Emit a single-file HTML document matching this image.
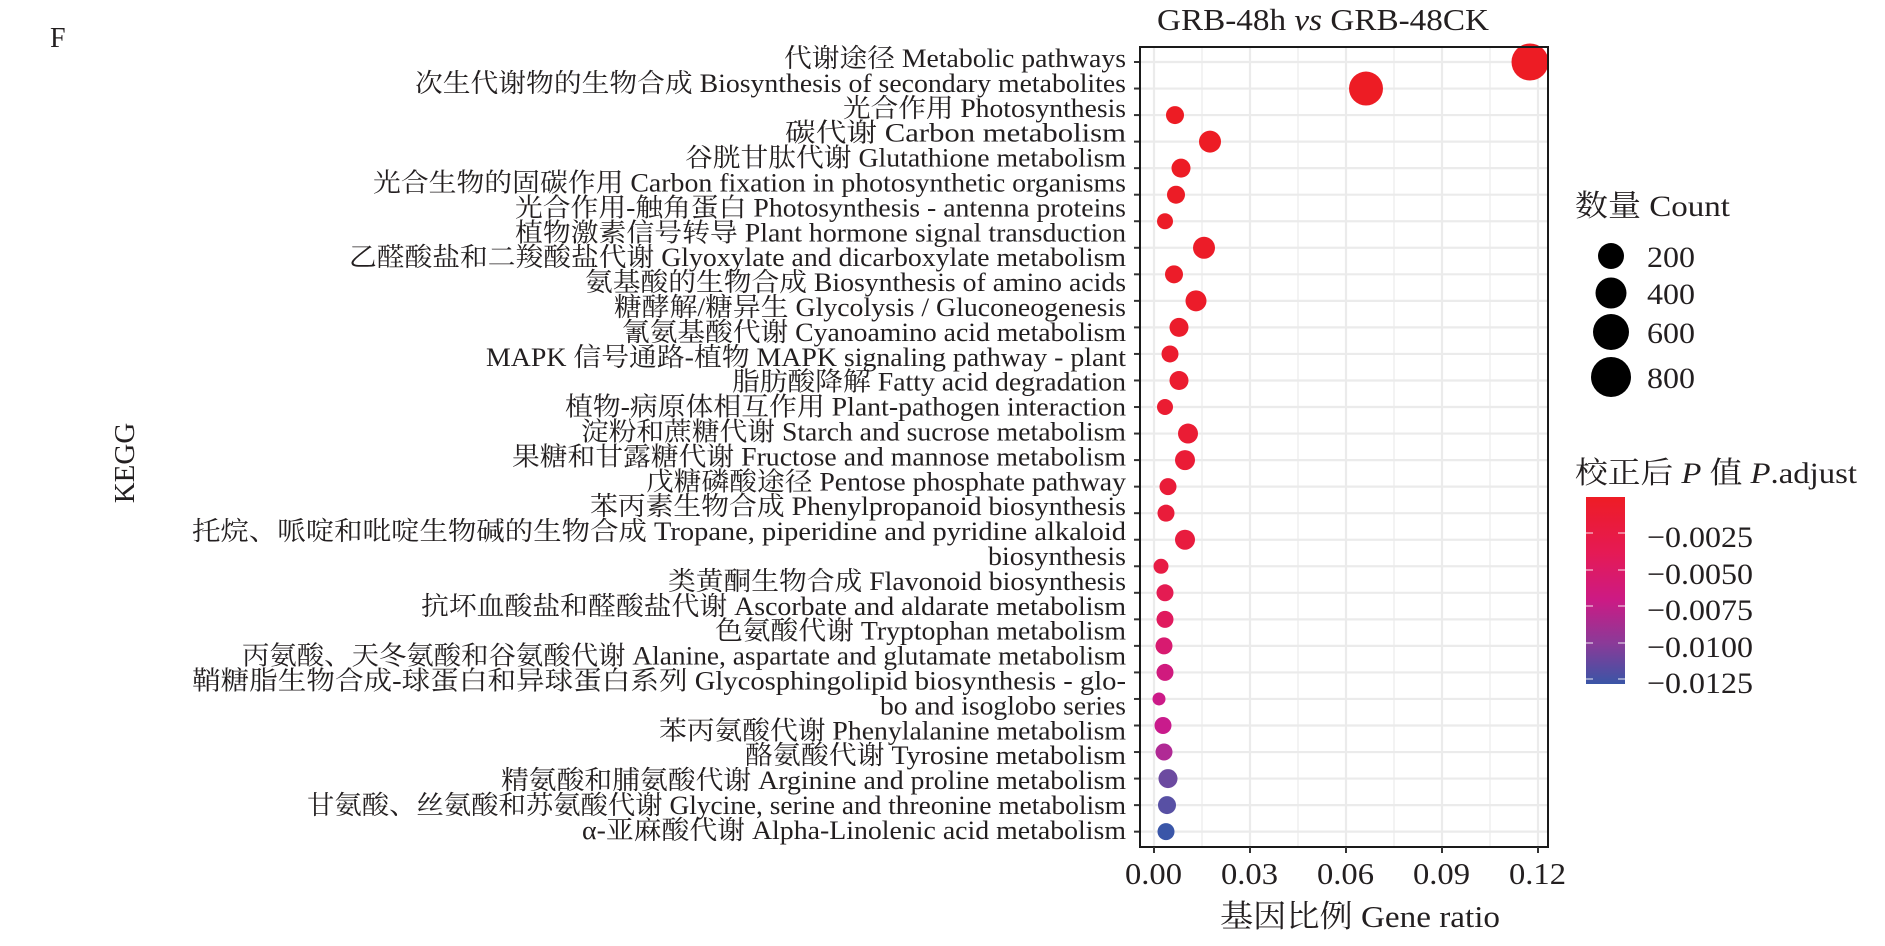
<!DOCTYPE html>
<html><head><meta charset="utf-8"><style>html,body{margin:0;padding:0;background:#fff}svg{display:block}text{font-family:"Liberation Serif","Noto Serif CJK SC",serif;fill:#231f20}</style></head><body>
<svg width="1885" height="946" viewBox="0 0 1885 946" xmlns="http://www.w3.org/2000/svg">
<text x="50" y="47" font-size="28">F</text>
<text x="1157" y="30" font-size="31" textLength="332" lengthAdjust="spacingAndGlyphs">GRB-48h <tspan font-style="italic">vs</tspan> GRB-48CK</text>
<text transform="translate(134,463) rotate(-90)" font-size="29" text-anchor="middle">KEGG</text>
<g id="grid" stroke="#ebebeb">
<g stroke-width="1.2"><line x1="1202" y1="47" x2="1202" y2="847"/><line x1="1298" y1="47" x2="1298" y2="847"/><line x1="1394" y1="47" x2="1394" y2="847"/><line x1="1490" y1="47" x2="1490" y2="847"/></g>
<g stroke-width="2.2"><line x1="1154" y1="47" x2="1154" y2="847"/><line x1="1250" y1="47" x2="1250" y2="847"/><line x1="1346" y1="47" x2="1346" y2="847"/><line x1="1442" y1="47" x2="1442" y2="847"/><line x1="1538" y1="47" x2="1538" y2="847"/></g>
</g>
<g id="rows"></g>
<rect x="1140" y="47" width="408" height="800" fill="none" stroke="#1a1a1a" stroke-width="2"/>
<g id="labels" font-size="26" text-anchor="end"></g>
<g font-size="31">
<text x="1125" y="884" textLength="57" lengthAdjust="spacingAndGlyphs">0.00</text><text x="1221" y="884" textLength="57" lengthAdjust="spacingAndGlyphs">0.03</text><text x="1317" y="884" textLength="57" lengthAdjust="spacingAndGlyphs">0.06</text><text x="1413" y="884" textLength="57" lengthAdjust="spacingAndGlyphs">0.09</text><text x="1509" y="884" textLength="57" lengthAdjust="spacingAndGlyphs">0.12</text>
</g>
<g stroke="#333" stroke-width="2"><line x1="1154" y1="847" x2="1154" y2="853"/><line x1="1250" y1="847" x2="1250" y2="853"/><line x1="1346" y1="847" x2="1346" y2="853"/><line x1="1442" y1="847" x2="1442" y2="853"/><line x1="1538" y1="847" x2="1538" y2="853"/></g>
<text x="1220" y="927" font-size="31" textLength="280" lengthAdjust="spacingAndGlyphs">基因比例 Gene ratio</text>
<text x="1575" y="216" font-size="30" textLength="155" lengthAdjust="spacingAndGlyphs">数量 Count</text>
<circle cx="1611" cy="256" r="13" fill="#000"/><circle cx="1611" cy="293" r="15.5" fill="#000"/><circle cx="1611" cy="332" r="18" fill="#000"/><circle cx="1611" cy="377" r="20" fill="#000"/>
<g font-size="30"><text x="1647" y="267" textLength="48" lengthAdjust="spacingAndGlyphs">200</text><text x="1647" y="304" textLength="48" lengthAdjust="spacingAndGlyphs">400</text><text x="1647" y="343" textLength="48" lengthAdjust="spacingAndGlyphs">600</text><text x="1647" y="388" textLength="48" lengthAdjust="spacingAndGlyphs">800</text></g>
<text x="1575" y="483" font-size="30" textLength="282" lengthAdjust="spacingAndGlyphs">校正后 <tspan font-style="italic">P</tspan> 值 <tspan font-style="italic">P</tspan>.adjust</text>
<defs><linearGradient id="cb" x1="0" y1="0" x2="0" y2="1"><stop offset="0" stop-color="#ee1c25"/><stop offset="0.3" stop-color="#e51a55"/><stop offset="0.55" stop-color="#cc1a84"/><stop offset="0.78" stop-color="#8b3a98"/><stop offset="1" stop-color="#3a55a6"/></linearGradient></defs>
<rect x="1586" y="497" width="39" height="187" fill="url(#cb)"/>
<g stroke="#fff" stroke-opacity="0.6" stroke-width="1.5">
<line x1="1586" y1="533" x2="1593" y2="533"/><line x1="1618" y1="533" x2="1625" y2="533"/>
<line x1="1586" y1="570" x2="1593" y2="570"/><line x1="1618" y1="570" x2="1625" y2="570"/>
<line x1="1586" y1="606" x2="1593" y2="606"/><line x1="1618" y1="606" x2="1625" y2="606"/>
<line x1="1586" y1="643" x2="1593" y2="643"/><line x1="1618" y1="643" x2="1625" y2="643"/>
<line x1="1586" y1="679" x2="1593" y2="679"/><line x1="1618" y1="679" x2="1625" y2="679"/>
</g>
<g font-size="30"><text x="1647" y="547" textLength="106" lengthAdjust="spacingAndGlyphs">−0.0025</text><text x="1647" y="584" textLength="106" lengthAdjust="spacingAndGlyphs">−0.0050</text><text x="1647" y="620" textLength="106" lengthAdjust="spacingAndGlyphs">−0.0075</text><text x="1647" y="657" textLength="106" lengthAdjust="spacingAndGlyphs">−0.0100</text><text x="1647" y="693" textLength="106" lengthAdjust="spacingAndGlyphs">−0.0125</text></g>
</svg>
<script>
var ns="http://www.w3.org/2000/svg";
var dots=[[1530,18.5,"#ed1c24"],[1366,17,"#ed1c24"],[1175,9,"#ed1c24"],[1210,11,"#ed1c24"],[1181,9.5,"#ed1c25"],[1176,9,"#ec1c26"],[1165,8,"#ec1c27"],[1204,11,"#ec1c28"],[1174,9,"#ec1c29"],[1196,10.5,"#ec1c2a"],[1179,9.5,"#eb1c2c"],[1170,8.5,"#eb1c2e"],[1179,9.5,"#eb1c30"],[1165,8,"#eb1c32"],[1188,10,"#ea1c34"],[1185,10,"#ea1c36"],[1168,8.5,"#e91c38"],[1166,8.5,"#e91c3a"],[1185,10,"#e81c3e"],[1161,7.5,"#e71c44"],[1165,8.5,"#e41b52"],[1165,8.5,"#e01a5e"],[1164,8.5,"#d81a70"],[1165,8.5,"#d01a7e"],[1159,6.5,"#cc1a88"],[1163,8.5,"#c91b8c"],[1164,8.5,"#b02a95"],[1168,9.5,"#6c4aa0"],[1167,9,"#5850a4"],[1166,8.5,"#3a56a8"]];
var g=document.getElementById("rows");
dots.forEach(function(d,i){var y=62+i*26.54;
var l=document.createElementNS(ns,"line");l.setAttribute("x1",1141);l.setAttribute("x2",1547);l.setAttribute("y1",y);l.setAttribute("y2",y);l.setAttribute("stroke","#ebebeb");l.setAttribute("stroke-width","2.2");g.appendChild(l);
var t=document.createElementNS(ns,"line");t.setAttribute("x1",1134);t.setAttribute("x2",1140);t.setAttribute("y1",y);t.setAttribute("y2",y);t.setAttribute("stroke","#333");t.setAttribute("stroke-width","2");g.appendChild(t);});
dots.forEach(function(d,i){var y=62+i*26.54;var c=document.createElementNS(ns,"circle");c.setAttribute("cx",d[0]);c.setAttribute("cy",y);c.setAttribute("r",d[1]);c.setAttribute("fill",d[2]);g.appendChild(c);});
var L=[["代谢途径 Metabolic pathways",784],["次生代谢物的生物合成 Biosynthesis of secondary metabolites",415],["光合作用 Photosynthesis",843],["碳代谢 Carbon metabolism",785],["谷胱甘肽代谢 Glutathione metabolism",685],["光合生物的固碳作用 Carbon fixation in photosynthetic organisms",373],["光合作用-触角蛋白 Photosynthesis - antenna proteins",515],["植物激素信号转导 Plant hormone signal transduction",515],["乙醛酸盐和二羧酸盐代谢 Glyoxylate and dicarboxylate metabolism",349],["氨基酸的生物合成 Biosynthesis of amino acids",585],["糖酵解/糖异生 Glycolysis / Gluconeogenesis",614],["氰氨基酸代谢 Cyanoamino acid metabolism",622],["MAPK 信号通路-植物 MAPK signaling pathway - plant",486],["脂肪酸降解 Fatty acid degradation",732],["植物-病原体相互作用 Plant-pathogen interaction",565],["淀粉和蔗糖代谢 Starch and sucrose metabolism",581],["果糖和甘露糖代谢 Fructose and mannose metabolism",512],["戊糖磷酸途径 Pentose phosphate pathway",646],["苯丙素生物合成 Phenylpropanoid biosynthesis",590],["托烷、哌啶和吡啶生物碱的生物合成 Tropane, piperidine and pyridine alkaloid",192],["biosynthesis",988],["类黄酮生物合成 Flavonoid biosynthesis",668],["抗坏血酸盐和醛酸盐代谢 Ascorbate and aldarate metabolism",421],["色氨酸代谢 Tryptophan metabolism",715],["丙氨酸、天冬氨酸和谷氨酸代谢 Alanine, aspartate and glutamate metabolism",242],["鞘糖脂生物合成-球蛋白和异球蛋白系列 Glycosphingolipid biosynthesis - glo-",192],["bo and isoglobo series",880],["苯丙氨酸代谢 Phenylalanine metabolism",659],["酪氨酸代谢 Tyrosine metabolism",745],["精氨酸和脯氨酸代谢 Arginine and proline metabolism",501],["甘氨酸、丝氨酸和苏氨酸代谢 Glycine, serine and threonine metabolism",307],["α-亚麻酸代谢 Alpha-Linolenic acid metabolism",582]];
var lg=document.getElementById("labels");
L.forEach(function(a,i){var t=document.createElementNS(ns,"text");t.setAttribute("x",1126);t.setAttribute("y",(67+i*24.9).toFixed(1));t.setAttribute("textLength",1126-a[1]);t.setAttribute("lengthAdjust","spacingAndGlyphs");t.textContent=a[0];lg.appendChild(t);});
</script>
</body></html>
